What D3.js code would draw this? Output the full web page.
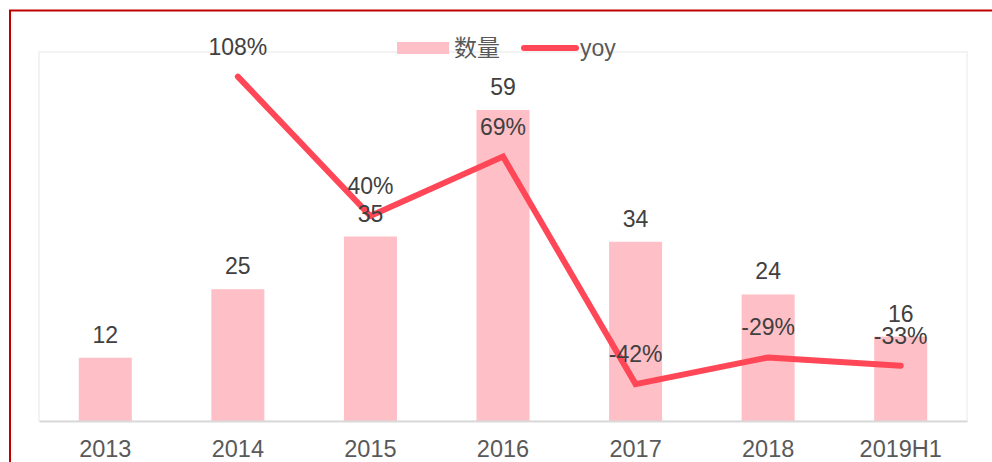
<!DOCTYPE html>
<html>
<head>
<meta charset="utf-8">
<script src="https://cdn.jsdelivr.net/npm/d3@7"></script>
<style>
  body { margin: 0; background: #fff; }
  text { font-family: "Liberation Sans", Arial, sans-serif; }
</style>
</head>
<body>
<div id="canvas"></div>
<script>
// Datos de la grafica
const categories = ["2013", "2014", "2015", "2016", "2017", "2018", "2019H1"];
const counts = [12, 25, 35, 59, 34, 24, 16];
const yoy = [null, 108, 40, 69, -42, -29, -33];
const yoyLabels = ["", "108%", "40%", "69%", "-42%", "-29%", "-33%"];

const width = 992;
const height = 462;
const margin = {top: 52, left: 39, bottom: 41, right: 25};
const iwidth = width - margin.left - margin.right;
const iheight = height - margin.top - margin.bottom;

const svg = d3.select("#canvas").append("svg")
    .attr("width", width)
    .attr("height", height);

// Marco rojo exterior
svg.append("path")
    .attr("d", `M10,${height} V10.5 H${width}`)
    .attr("fill", "none")
    .attr("stroke", "#C00000")
    .attr("stroke-width", 2);

const g = svg.append("g")
    .attr("transform", `translate(${margin.left}, ${margin.top})`);

// Area del grafico
g.append("rect")
    .attr("x", 0).attr("y", 0)
    .attr("width", iwidth).attr("height", iheight)
    .attr("fill", "none")
    .attr("stroke", "#F0F0F0")
    .attr("stroke-width", 1.5);

const x = d3.scaleBand()
    .domain(categories)
    .range([0, iwidth])
    .paddingInner(0.6)
    .paddingOuter(0.3);

const y = d3.scaleLinear().domain([0, 70]).range([iheight, 0]);
const y2 = d3.scaleLinear().domain([-60, 120]).range([iheight, 0]);

// Barras
g.selectAll(".bar").data(counts)
    .enter().append("rect")
    .attr("class", "bar")
    .attr("fill", "#FFBFC6")
    .attr("x", (d, i) => x(categories[i]))
    .attr("y", d => y(d))
    .attr("width", x.bandwidth())
    .attr("height", d => iheight - y(d));

// Eje x
const xAxis = g.append("g")
    .attr("transform", `translate(0, ${iheight})`)
    .call(d3.axisBottom(x).tickSize(0).tickPadding(19));
xAxis.select(".domain").attr("stroke", "#D9D9D9").attr("stroke-width", 2);
xAxis.selectAll("text")
    .attr("fill", "#595959")
    .style("font-size", "23.5px");

// Linea yoy
const line = d3.line()
    .defined(d => d.v !== null)
    .x(d => x(d.c) + x.bandwidth() / 2)
    .y(d => y2(d.v));

const yoyData = categories.map((c, i) => ({c: c, v: yoy[i], label: yoyLabels[i]}));

g.append("path")
    .datum(yoyData)
    .attr("fill", "none")
    .attr("stroke", "#FF4757")
    .attr("stroke-width", 6)
    .attr("stroke-linecap", "round")
    .attr("stroke-linejoin", "miter")
    .attr("d", line);

// Etiquetas de barras
g.selectAll(".bar-label").data(counts)
    .enter().append("text")
    .attr("class", "bar-label")
    .attr("text-anchor", "middle")
    .attr("fill", "#404040")
    .style("font-size", "23px")
    .attr("x", (d, i) => x(categories[i]) + x.bandwidth() / 2)
    .attr("y", d => y(d) - 15)
    .text(d => d);

// Etiquetas yoy
g.selectAll(".yoy-label").data(yoyData.filter(d => d.v !== null))
    .enter().append("text")
    .attr("class", "yoy-label")
    .attr("text-anchor", "middle")
    .attr("fill", "#404040")
    .style("font-size", "23px")
    .attr("x", d => x(d.c) + x.bandwidth() / 2)
    .attr("y", d => y2(d.v) - 22)
    .text(d => d.label);

// Leyenda
const legend = svg.append("g");
legend.append("rect")
    .attr("x", 397).attr("y", 42)
    .attr("width", 52).attr("height", 12)
    .attr("fill", "#FFBFC6");
legend.append("text")
    .attr("x", 454).attr("y", 56)
    .attr("fill", "#595959")
    .style("font-size", "23px")
    .style("font-family", "'Noto Sans CJK SC', sans-serif")
    .text("数量");
legend.append("line")
    .attr("x1", 524).attr("x2", 576)
    .attr("y1", 48).attr("y2", 48)
    .attr("stroke", "#FF4757")
    .attr("stroke-width", 6)
    .attr("stroke-linecap", "round");
legend.append("text")
    .attr("x", 580).attr("y", 56)
    .attr("fill", "#595959")
    .style("font-size", "23px")
    .text("yoy");
</script>
</body>
</html>
